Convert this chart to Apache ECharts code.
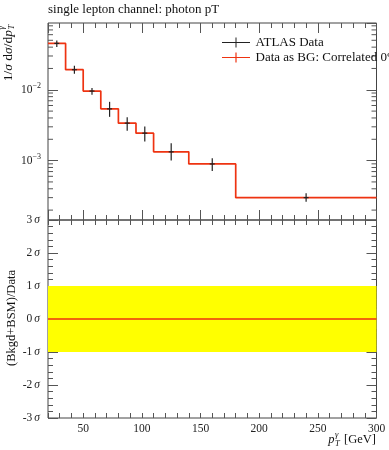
<!DOCTYPE html>
<html><head><meta charset="utf-8">
<script src="https://cdn.jsdelivr.net/npm/echarts@6/dist/echarts.min.js"></script>
<style>html,body{margin:0;padding:0;background:#fff}#c{width:389px;height:450px}</style>
</head><body><div id="c"></div>
<script>
// ---- data ----
const binLow  = [20, 35, 50, 65, 80, 95, 110, 140, 180];
const binHigh = [35, 50, 65, 80, 95, 110, 140, 180, 300];
const dataVal  = [0.0452, 0.0192, 0.0096, 0.00538, 0.00338, 0.00244, 0.00133, 0.000897, 0.000300];
const dataLow  = [0.0402, 0.0168, 0.0085, 0.00415, 0.00265, 0.00186, 0.00100, 0.000714, 0.000263];
const dataHigh = [0.0498, 0.0218, 0.01057, 0.00676, 0.00411, 0.00303, 0.00176, 0.00108, 0.000346];
const mcVal    = [0.0452, 0.0192, 0.0096, 0.00538, 0.00338, 0.00244, 0.00133, 0.000897, 0.000300];
const ratioVal = [0, 0, 0, 0, 0, 0, 0, 0, 0];
const seriesNames = ['ATLAS Data', 'Data as BG: Correlated 0%'];
const titleText = 'single lepton channel: photon pT';
const logMinorTicks = [2e-4,3e-4,4e-4,5e-4,6e-4,7e-4,8e-4,9e-4,2e-3,3e-3,4e-3,5e-3,6e-3,7e-3,8e-3,9e-3,2e-2,3e-2,4e-2,5e-2,6e-2,7e-2,8e-2];

// ---- style ----
const FONT = 'Liberation Serif';
const RED = '#ee3311';
const FRAME = '#444';
const TICK = '#555';
const XMIN = 20, XMAX = 300, YMIN = 1.45e-4, YMAX = 0.0877;

const ctx = document.createElement('canvas').getContext('2d');
function tw(str, size, italic) { ctx.font = (italic ? 'italic ' : '') + size + 'px "' + FONT + '"'; return ctx.measureText(str).width; }

const chart = echarts.init(document.getElementById('c'), null, {renderer: 'canvas'});

function xAx(grid, pos, minor, labels) {
  const a = {
    gridIndex: grid, type: 'value', min: XMIN, max: XMAX, position: pos,
    axisLine: {show: false}, splitLine: {show: false},
    axisTick: {show: true, inside: true, length: minor ? 5 : 10, lineStyle: {color: TICK, width: 1}},
    axisLabel: {show: false}
  };
  if (minor) a.interval = 10; else a.splitNumber = 5;
  if (labels) a.axisLabel = {show: true, margin: 5, fontFamily: FONT, fontSize: 11.5, color: '#222', showMinLabel: false};
  return a;
}
function yLog(pos, labels) {
  return {
    gridIndex: 0, type: 'log', logBase: 10, min: YMIN, max: YMAX, position: pos,
    axisLine: {show: false}, splitLine: {show: false}, minorTick: {show: false},
    axisTick: {show: true, inside: true, length: 10, lineStyle: {color: TICK}},
    axisLabel: labels ? {
      show: true, margin: 7, showMinLabel: false, showMaxLabel: false,
      formatter: v => '{b|10}{s|−' + Math.round(-Math.log10(v)) + '}',
      rich: {b: {fontFamily: FONT, fontSize: 11.5, color: '#222'}, s: {fontFamily: FONT, fontSize: 8, color: '#222', padding: [0, 0, 7, 0]}}
    } : {show: false}
  };
}
function yRat(pos, labels) {
  return {
    gridIndex: 1, type: 'value', min: -3, max: 3, interval: 1, position: pos,
    axisLine: {show: false}, splitLine: {show: false},
    axisTick: {show: true, inside: true, length: 10, lineStyle: {color: TICK}},
    minorTick: {show: true, splitNumber: 5, length: 5, lineStyle: {color: TICK}},
    axisLabel: labels ? {
      show: true, margin: 8,
      formatter: v => '{n|' + (v < 0 ? '-' : '') + Math.abs(v) + '}{s|σ}',
      rich: {n: {fontFamily: FONT, fontSize: 11.5, color: '#222'}, s: {fontFamily: FONT, fontSize: 11.5, fontStyle: 'italic', color: '#222', padding: [0, 0, 0, 2]}}
    } : {show: false}
  };
}

const stepData = (vals) => binLow.map((x, i) => [x, vals[i]]).concat([[binHigh[binHigh.length - 1], vals[vals.length - 1]]]);

// axis-title layout (text only)
const ySize = 13.5, subSize = 8.5;
const yMain = '{n|1/}{i|σ}{n| d}{i|σ}{n|/d}{i|p}';
const gevW = tw(' [GeV]', 12.5);
const xRight = 376, xY = 440;

chart.setOption({
  animation: false,
  title: {text: titleText, left: 48, top: 3, padding: 0, textStyle: {fontFamily: FONT, fontSize: 13, fontWeight: 'normal', color: '#111'}},
  legend: {
    orient: 'vertical', left: 222, top: 36, itemWidth: 29, itemHeight: 10, itemGap: 2, selectedMode: false,
    padding: 0,
    textStyle: {fontFamily: FONT, fontSize: 13, color: '#111'},
    data: [
      {name: seriesNames[0], icon: 'path://M0,4.5 H28 V5.5 H0 Z M13.5,0 H14.5 V10 H13.5 Z', itemStyle: {color: '#222'}},
      {name: seriesNames[1], icon: 'path://M0,4.4 H28 V5.6 H0 Z M13.4,0 H14.6 V10 H13.4 Z', itemStyle: {color: RED}}
    ]
  },
  grid: [
    {left: 48, right: 12.5, top: 23, height: 197, show: true, borderColor: FRAME, borderWidth: 1, backgroundColor: 'transparent'},
    {left: 48, right: 12.5, top: 220, height: 198, show: true, borderColor: FRAME, borderWidth: 1, backgroundColor: 'transparent'}
  ],
  xAxis: [
    xAx(0, 'bottom', false, false), xAx(0, 'top', false, false), xAx(0, 'bottom', true, false), xAx(0, 'top', true, false),
    xAx(1, 'bottom', false, true), xAx(1, 'top', false, false), xAx(1, 'bottom', true, false), xAx(1, 'top', true, false)
  ],
  yAxis: [yLog('left', true), yLog('right', false), yRat('left', true), yRat('right', false)],
  series: [
    {
      name: seriesNames[1], type: 'line', xAxisIndex: 0, yAxisIndex: 0, step: 'end', symbol: 'none',
      data: stepData(mcVal), lineStyle: {color: RED, width: 1.7}, itemStyle: {color: RED}, z: 3
    },
    {
      name: seriesNames[0], type: 'custom', xAxisIndex: 0, yAxisIndex: 0, z: 4,
      itemStyle: {color: '#222'},
      data: binLow.map((x, i) => [(x + binHigh[i]) / 2, dataVal[i], dataLow[i], dataHigh[i]]),
      encode: {x: 0, y: 1},
      renderItem: (params, api) => {
        const c = api.value(0);
        const pv = api.coord([c, api.value(1)]);
        const pl = api.coord([c, api.value(2)]);
        const ph = api.coord([c, api.value(3)]);
        const st = {stroke: '#222', lineWidth: 1.2};
        return {type: 'group', children: [
          {type: 'line', shape: {x1: pv[0], y1: pl[1], x2: pv[0], y2: ph[1]}, style: st},
          {type: 'line', shape: {x1: pv[0] - 2.5, y1: pv[1], x2: pv[0] + 2.5, y2: pv[1]}, style: st}
        ]};
      }
    },
    {
      name: 'logMinorTicks', type: 'custom', xAxisIndex: 0, yAxisIndex: 0, silent: true, z: 2,
      data: logMinorTicks.map(v => [XMIN, v]),
      renderItem: (params, api) => {
        const l = api.coord([XMIN, api.value(1)]);
        const r = api.coord([XMAX, api.value(1)]);
        const st = {stroke: TICK, lineWidth: 1};
        return {type: 'group', children: [
          {type: 'line', shape: {x1: l[0], y1: l[1], x2: l[0] + 5, y2: l[1]}, style: st},
          {type: 'line', shape: {x1: r[0], y1: r[1], x2: r[0] - 5, y2: r[1]}, style: st}
        ]};
      }
    },
    {
      name: 'ratio', type: 'line', xAxisIndex: 4, yAxisIndex: 2, step: 'end', symbol: 'none',
      data: stepData(ratioVal), lineStyle: {color: RED, width: 1.7}, z: 3,
      markArea: {silent: true, itemStyle: {color: '#ffff00', opacity: 1}, data: [[{yAxis: -1}, {yAxis: 1}]]}
    }
  ],
  graphic: [
    {
      type: 'group', x: 8, y: 30, rotation: Math.PI / 2,
      children: [
        {type: 'text', x: 0, y: 0, style: {text: yMain, align: 'right', verticalAlign: 'middle',
          rich: {n: {fontFamily: FONT, fontSize: ySize, fill: '#111'}, i: {fontFamily: FONT, fontSize: ySize, fontStyle: 'italic', fill: '#111'}}}},
        {type: 'text', x: 0.5, y: 4, style: {text: 'T', fontFamily: FONT, fontSize: subSize, fontStyle: 'italic', fill: '#111', align: 'left', verticalAlign: 'middle'}},
        {type: 'text', x: 0.5, y: -6.5, style: {text: 'γ', fontFamily: FONT, fontSize: subSize, fontStyle: 'italic', fill: '#111', align: 'left', verticalAlign: 'middle'}}
      ]
    },
    {
      type: 'text', x: 12, y: 318, rotation: Math.PI / 2,
      style: {text: '(Bkgd+BSM)/Data', fontFamily: FONT, fontSize: 12.5, fill: '#111', align: 'center', verticalAlign: 'middle'}
    },
    {type: 'text', x: xRight, y: xY, style: {text: ' [GeV]', fontFamily: FONT, fontSize: 12.5, fill: '#111', align: 'right', verticalAlign: 'middle'}},
    {type: 'text', x: xRight - gevW - 6, y: xY + 3.5, style: {text: 'T', fontFamily: FONT, fontSize: subSize, fontStyle: 'italic', fill: '#111', align: 'left', verticalAlign: 'middle'}},
    {type: 'text', x: xRight - gevW - 6, y: xY - 5, style: {text: 'γ', fontFamily: FONT, fontSize: subSize, fontStyle: 'italic', fill: '#111', align: 'left', verticalAlign: 'middle'}},
    {type: 'text', x: xRight - gevW - 6.5, y: xY, style: {text: 'p', fontFamily: FONT, fontSize: 12.5, fontStyle: 'italic', fill: '#111', align: 'right', verticalAlign: 'middle'}}
  ]
});
</script>
</body></html>
